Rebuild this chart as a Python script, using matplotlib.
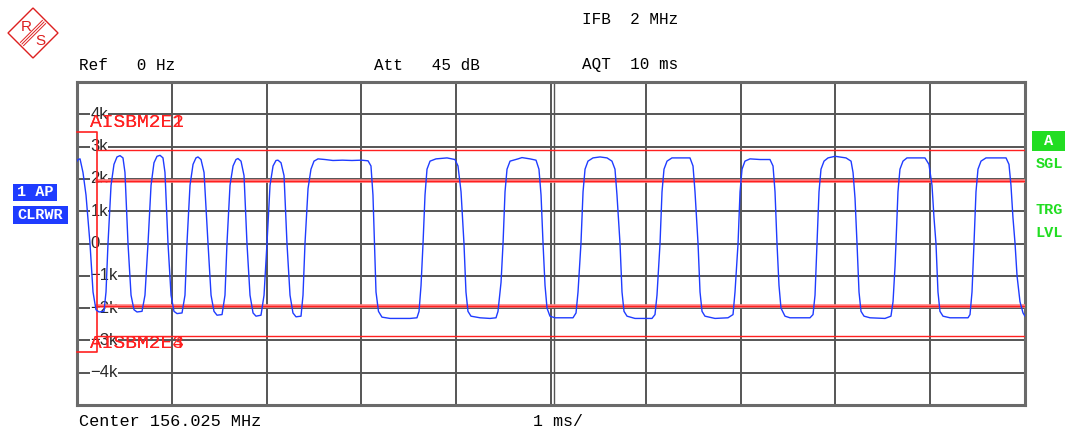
import matplotlib.pyplot as plt
from matplotlib.patches import Polygon, Rectangle

# FM demodulated trace (time in ms, deviation in kHz)
t_ms = [
    0.000, 0.011, 0.032, 0.063, 0.095, 0.137, 0.169, 0.200, 0.232, 0.285,
    0.306, 0.327, 0.359, 0.390, 0.422, 0.454, 0.485, 0.506, 0.538, 0.570,
    0.601, 0.633, 0.686, 0.717, 0.749, 0.781, 0.812, 0.844, 0.876, 0.907,
    0.928, 0.960, 0.992, 1.023, 1.055, 1.108, 1.139, 1.160, 1.192, 1.224,
    1.255, 1.276, 1.308, 1.340, 1.382, 1.414, 1.445, 1.477, 1.530, 1.561,
    1.582, 1.614, 1.646, 1.677, 1.698, 1.730, 1.762, 1.793, 1.825, 1.857,
    1.888, 1.941, 1.973, 2.004, 2.036, 2.068, 2.099, 2.120, 2.152, 2.184,
    2.215, 2.247, 2.278, 2.310, 2.363, 2.384, 2.405, 2.437, 2.468, 2.500,
    2.542, 2.616, 2.700, 2.800, 2.900, 3.000, 3.070, 3.101, 3.122, 3.138,
    3.154, 3.180, 3.217, 3.302, 3.513, 3.586, 3.608, 3.629, 3.650, 3.671,
    3.692, 3.724, 3.787, 3.903, 3.987, 4.019, 4.051, 4.082, 4.103, 4.124,
    4.156, 4.251, 4.357, 4.420, 4.441, 4.473, 4.494, 4.515, 4.536, 4.568,
    4.652, 4.694, 4.778, 4.842, 4.873, 4.895, 4.916, 4.937, 4.958, 4.989,
    5.042, 5.232, 5.264, 5.285, 5.316, 5.338, 5.359, 5.390, 5.443, 5.517,
    5.591, 5.643, 5.675, 5.696, 5.728, 5.749, 5.770, 5.802, 5.886, 6.065,
    6.097, 6.118, 6.150, 6.171, 6.192, 6.224, 6.276, 6.466, 6.498, 6.519,
    6.551, 6.572, 6.593, 6.624, 6.730, 6.867, 6.920, 6.941, 6.973, 6.994,
    7.015, 7.046, 7.099, 7.205, 7.310, 7.342, 7.363, 7.384, 7.405, 7.426,
    7.468, 7.521, 7.732, 7.764, 7.785, 7.806, 7.827, 7.848, 7.880, 7.922,
    7.996, 8.112, 8.165, 8.186, 8.207, 8.228, 8.249, 8.270, 8.302, 8.365,
    8.523, 8.586, 8.608, 8.629, 8.639, 8.660, 8.681, 8.713, 8.755, 8.945,
    8.987, 9.019, 9.040, 9.061, 9.082, 9.103, 9.135, 9.209, 9.399, 9.420,
    9.441, 9.462, 9.483, 9.504, 9.536, 9.589, 9.800, 9.831, 9.852, 9.873,
    9.895, 9.916, 9.947, 9.979, 10.000,
]
dev_khz = [
    2.55, 2.60, 2.62, 2.20, 1.50, 0.00, -1.50, -2.05, -2.12, -2.10,
    -1.50, 0.00, 1.80, 2.45, 2.68, 2.72, 2.65, 2.20, 0.00, -1.60,
    -2.05, -2.12, -2.10, -1.60, 0.00, 1.80, 2.50, 2.70, 2.73, 2.65,
    2.20, 0.00, -1.60, -2.10, -2.17, -2.15, -1.60, 0.00, 1.80, 2.45,
    2.65, 2.68, 2.60, 2.20, 0.00, -1.60, -2.10, -2.22, -2.20, -1.60,
    0.00, 1.80, 2.40, 2.60, 2.63, 2.55, 2.10, 0.00, -1.60, -2.15,
    -2.25, -2.22, -1.60, 0.00, 1.80, 2.40, 2.57, 2.58, 2.50, 2.10,
    0.00, -1.60, -2.15, -2.27, -2.25, -1.60, 0.00, 1.70, 2.30, 2.55,
    2.62, 2.60, 2.57, 2.58, 2.57, 2.58, 2.56, 2.40, 1.50, 0.00,
    -1.50, -2.10, -2.28, -2.32, -2.32, -2.30, -2.10, -1.30, 0.00, 1.50,
    2.30, 2.55, 2.62, 2.65, 2.60, 2.40, 1.60, 0.00, -1.50, -2.10,
    -2.25, -2.30, -2.32, -2.30, -2.10, -1.20, 0.00, 1.60, 2.30, 2.55,
    2.62, 2.66, 2.62, 2.58, 2.30, 1.50, 0.00, -1.30, -2.00, -2.25,
    -2.30, -2.30, -2.15, -1.50, 0.00, 1.60, 2.30, 2.55, 2.65, 2.68,
    2.65, 2.55, 2.30, 1.50, 0.00, -1.50, -2.10, -2.25, -2.32, -2.32,
    -2.20, -1.60, 0.00, 1.60, 2.30, 2.55, 2.65, 2.65, 2.40, 1.60,
    0.00, -1.50, -2.10, -2.25, -2.32, -2.30, -2.20, -1.50, 0.00, 1.60,
    2.30, 2.55, 2.62, 2.60, 2.60, 2.40, 1.60, 0.00, -1.30, -2.00,
    -2.25, -2.30, -2.30, -2.20, -1.60, 0.00, 1.60, 2.30, 2.55, 2.65,
    2.70, 2.65, 2.55, 2.20, 1.40, 0.00, -1.50, -2.10, -2.25, -2.30,
    -2.32, -2.25, -1.80, -0.70, 0.00, 1.60, 2.30, 2.55, 2.65, 2.65,
    2.45, 1.80, 0.80, 0.00, -1.50, -2.10, -2.25, -2.30, -2.30, -2.20,
    -1.50, 0.00, 1.60, 2.30, 2.55, 2.65, 2.65, 2.45, 1.80, 0.80,
    0.00, -1.00, -1.80, -2.15, -2.25,
]

# limit lines (kHz)
upper_limits = [2.88, 1.95]
lower_limits = [-1.92, -2.85]
limit_start = 0.21
bracket = [3.44, -3.37]

ytick_vals = [4, 3, 2, 1, 0, -1, -2, -3, -4]
ytick_labels = ["4k", "3k", "2k", "1k", "0", "\u22121k", "\u22122k", "\u22123k", "\u22124k"]

W, H = 1069, 429
mono = "Liberation Mono"
red = "#ff2020"
blue = "#1f3cff"
green = "#22dd22"


def fx(x):
    return x / W


def fy(y):
    return 1 - y / H


fig = plt.figure(figsize=(W / 100, H / 100), dpi=100)
ax = fig.add_axes([fx(77), fy(405), 948 / W, 323 / H])
ax.set_xlim(0, 10)
ax.set_ylim(-5, 5)
ax.set_xticks(range(11))
ax.set_yticks(range(-5, 6))
ax.tick_params(length=0, labelbottom=False, labelleft=False)
ax.grid(True, color="#555555", lw=1.4, zorder=1)
ax.axvline(5.03, color="#555555", lw=1.0, zorder=1)
ax.set_axisbelow(True)
for s in ax.spines.values():
    s.set_color("#6a6a6a")
    s.set_linewidth(2.2)

for v, lab in zip(ytick_vals, ytick_labels):
    ax.text(0.14, v, lab, fontsize=12, family="Liberation Sans", color="#2a2a2a",
            ha="left", va="center", zorder=2,
            bbox=dict(facecolor="white", edgecolor="none", pad=0.3))

# limit lines
for v in upper_limits[:1] + lower_limits[1:]:
    ax.plot([limit_start, 10], [v, v], color=red, lw=1.0, zorder=3)
for v in upper_limits[1:] + lower_limits[:1]:
    ax.plot([limit_start, 10], [v, v], color="#ff8080", lw=2.6, zorder=3)
    ax.plot([limit_start, 10], [v, v], color=red, lw=0.9, zorder=3)
ax.plot([0, limit_start, limit_start, 0], [bracket[0], bracket[0], bracket[1], bracket[1]],
        color=red, lw=1.2, zorder=3, clip_on=False)

ax.plot(t_ms, dev_khz, color=blue, lw=1.0, zorder=4)

for name in ["AISBM2E1", "AISBM2E2"]:
    ax.text(0.137, 3.75, name, fontsize=14, family=mono, color=red, ha="left", va="center", zorder=5)
for name in ["AISBM2E3", "AISBM2E4"]:
    ax.text(0.137, -3.10, name, fontsize=14, family=mono, color=red, ha="left", va="center", zorder=5)

# header / footer texts
fig.text(fx(79), fy(65), "Ref   0 Hz", fontsize=11.5, family=mono, va="center")
fig.text(fx(374), fy(65), "Att   45 dB", fontsize=11.5, family=mono, va="center")
fig.text(fx(582), fy(65), "AQT  10 ms", fontsize=11.5, family=mono, va="center")
fig.text(fx(582), fy(20), "IFB  2 MHz", fontsize=11.5, family=mono, va="center")
fig.text(fx(79), fy(421), "Center 156.025 MHz", fontsize=12.2, family=mono, va="center")
fig.text(fx(533), fy(421), "1 ms/", fontsize=12, family=mono, va="center")

# trace info boxes on the left
fig.patches.append(Rectangle((fx(13), fy(201)), 44 / W, 17 / H, transform=fig.transFigure,
                             facecolor=blue, edgecolor="none"))
fig.patches.append(Rectangle((fx(13), fy(224)), 55 / W, 18 / H, transform=fig.transFigure,
                             facecolor=blue, edgecolor="none"))
fig.text(fx(35), fy(192.5), "1 AP", fontsize=11, family=mono, weight="bold", color="white",
         ha="center", va="center")
fig.text(fx(40.5), fy(215), "CLRWR", fontsize=11, family=mono, weight="bold", color="white",
         ha="center", va="center")

# status on the right
fig.patches.append(Rectangle((fx(1032), fy(151)), 33 / W, 20 / H, transform=fig.transFigure,
                             facecolor=green, edgecolor="none"))
fig.text(fx(1048.5), fy(141), "A", fontsize=11, family=mono, weight="bold", color="white",
         ha="center", va="center")
for y, s in [(164, "SGL"), (210, "TRG"), (233, "LVL")]:
    fig.text(fx(1049), fy(y), s, fontsize=11, family=mono, weight="bold", color=green,
             ha="center", va="center")

# R&S logo
lg = fig.add_axes([fx(7), fy(59), 52 / W, 52 / H])
lg.set_xlim(0, 52)
lg.set_ylim(0, 52)
lg.axis("off")
lg.add_patch(Polygon([(26, 51), (51, 26), (26, 1), (1, 26)], closed=True,
                     facecolor="none", edgecolor="#dd2020", lw=1.0))
for d in [-1.6, 0, 1.6]:
    lg.plot([15 + d, 37 + d], [15 - d, 37 - d], color="#dd2020", lw=0.7)
lg.text(19, 32, "R", fontsize=11, color="#dd2020", ha="center", va="center", family="Liberation Sans")
lg.text(33, 18, "S", fontsize=11, color="#dd2020", ha="center", va="center", family="Liberation Sans")

fig.savefig("out.png", dpi=100)
